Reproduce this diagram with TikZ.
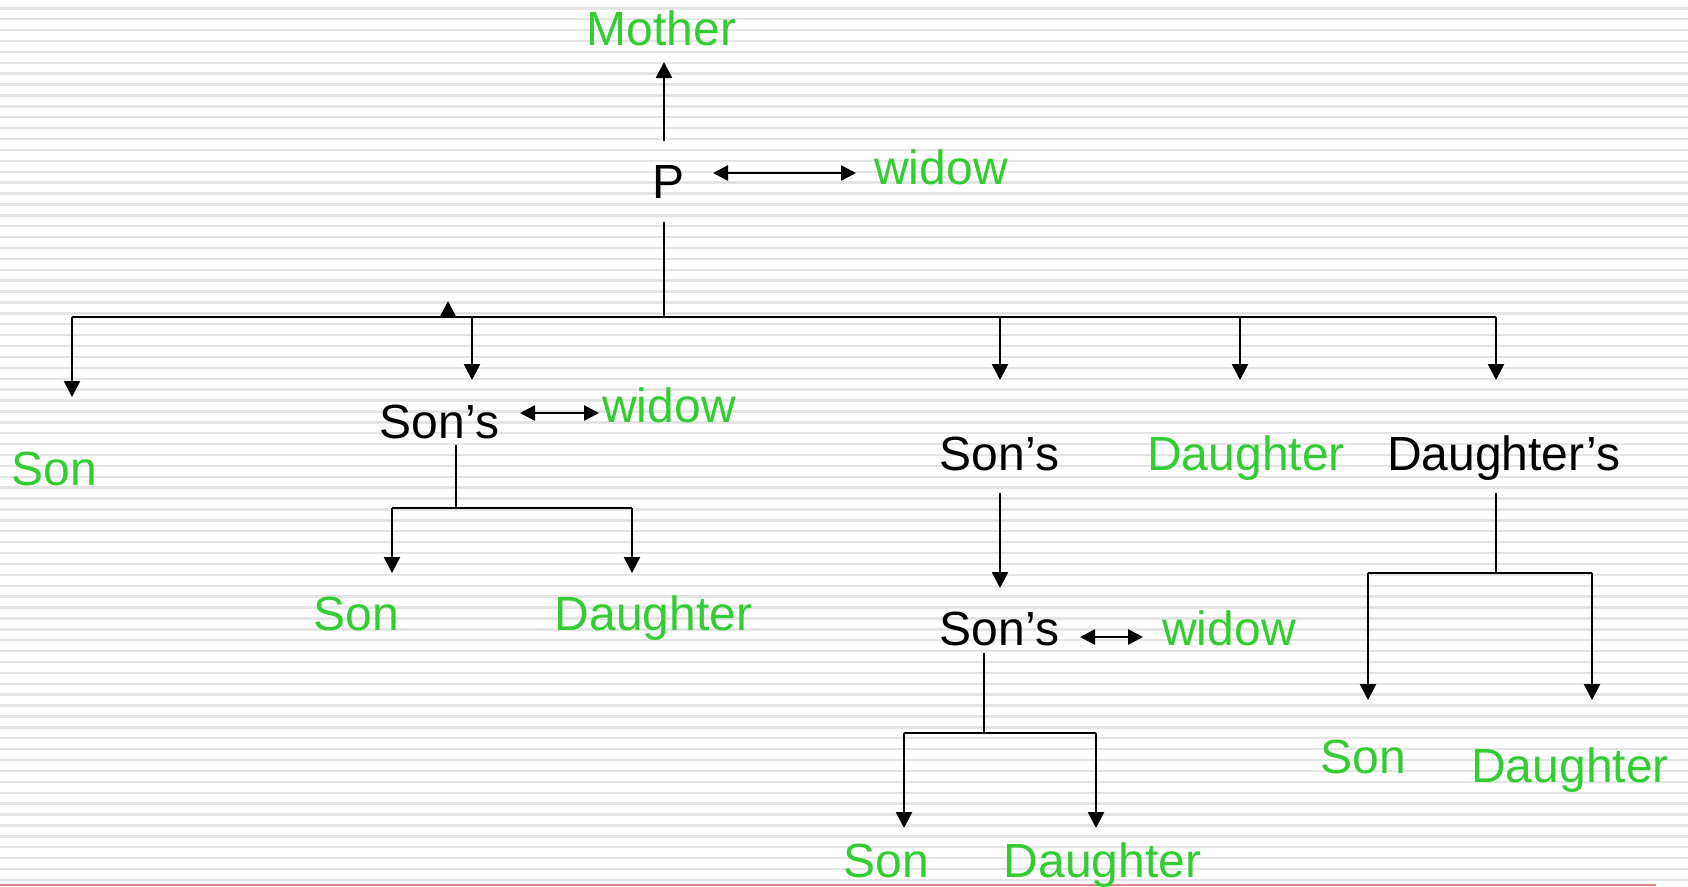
\documentclass[tikz,border=0pt]{standalone}
\usepackage{fontspec}
\setmainfont{Liberation Sans}
\usetikzlibrary{arrows.meta}
\definecolor{grn}{RGB}{51,204,51}
\definecolor{stripec}{RGB}{228,228,228}
\definecolor{redl}{RGB}{224,128,128}
\tikzset{
  lbl/.style={font=\fontsize{48}{58}\selectfont, inner sep=0pt, anchor=base},
  gtxt/.style={lbl, text=grn},
  ktxt/.style={lbl, text=black},
  ln/.style={line width=2.6pt, draw=black},
  arr/.style={ln, -{Triangle[length=16pt,width=16pt]}},
  dbl/.style={ln, {Triangle[length=15pt,width=15pt]}-{Triangle[length=15pt,width=15pt]}},
  stripe/.style={line width=2.4pt, draw=stripec},
}
\begin{document}
\begin{tikzpicture}[x=1pt,y=-1pt]
\useasboundingbox (0,0) rectangle (1688,886);
% background stripes
\foreach \i in {0,...,81}{
  \pgfmathsetmacro{\yy}{8.3+10.895*\i}
  \draw[stripe] (0,\yy) -- (1688,\yy);
}
\draw[line width=2pt, draw=redl] (0,884.5) -- (1656,884.5);

% text nodes
\node[gtxt] (mother) at (661.5,45) {Mother};
\node[ktxt] (p) at (668,198) {P};
\node[gtxt] (widow1) at (941,184) {widow};
\node[gtxt] (son0) at (54,485) {Son};
\node[ktxt] (sonsA) at (439.5,438) {Son’s};
\node[gtxt] (widowA) at (669,422) {widow};
\node[gtxt] (sonA) at (356.5,630) {Son};
\node[gtxt] (dauA) at (653.5,630) {Daughter};
\node[ktxt] (sonsB) at (999.5,470) {Son’s};
\node[gtxt] (dauB) at (1246,470) {Daughter};
\node[ktxt] (dausD) at (1503.5,470) {Daughter’s};
\node[ktxt] (sonsC) at (999.5,645) {Son’s};
\node[gtxt] (widowC) at (1229,645) {widow};
\node[gtxt] (sonC) at (886.5,877) {Son};
\node[gtxt] (dauC) at (1102.5,877) {Daughter};
\node[gtxt] (sonD) at (1363,773) {Son};
\node[gtxt] (dauD) at (1570,782) {Daughter};

% coordinates
\coordinate (pTop) at (664,141);
\coordinate (motherTip) at (664,62);
\coordinate (pWl) at (713,173);
\coordinate (pWr) at (856,173);
\coordinate (pBot) at (664,222);
\coordinate (barP) at (664,317);
\coordinate (barL) at (72,317);
\coordinate (barR) at (1496,317);
\coordinate (t0) at (72,397);
\coordinate (bA) at (472,317);
\coordinate (tA) at (472,380);
\coordinate (bB) at (1000,317);
\coordinate (tB) at (1000,380);
\coordinate (bDa) at (1240,317);
\coordinate (tDa) at (1240,380);
\coordinate (tDs) at (1496,380);
\coordinate (upBase) at (448,317);
\coordinate (upTip) at (448,301);
% Son's A family
\coordinate (aWl) at (520,413);
\coordinate (aWr) at (599,413);
\coordinate (aTop) at (456,445);
\coordinate (aJ) at (456,508);
\coordinate (aL) at (392,508);
\coordinate (aR) at (632,508);
\coordinate (aLt) at (392,573);
\coordinate (aRt) at (632,573);
% Son's B -> C
\coordinate (bTop) at (1000,493);
\coordinate (bTip) at (1000,588);
\coordinate (cWl) at (1080,637);
\coordinate (cWr) at (1143,637);
\coordinate (cTop) at (984,653);
\coordinate (cJ) at (984,733);
\coordinate (cL) at (904,733);
\coordinate (cR) at (1096,733);
\coordinate (cLt) at (904,828);
\coordinate (cRt) at (1096,828);
% Daughter's family
\coordinate (dTop) at (1496,493);
\coordinate (dJ) at (1496,573);
\coordinate (dL) at (1368,573);
\coordinate (dR) at (1592,573);
\coordinate (dLt) at (1368,700);
\coordinate (dRt) at (1592,700);

% connectors
\draw[arr] (pTop) -- (motherTip);
\draw[dbl] (pWl) -- (pWr);
\draw[ln] (pBot) -- (barP);
\draw[ln] (barL) -- (barR);
\draw[arr] (barL) -- (t0);
\draw[arr] (bA) -- (tA);
\draw[arr] (bB) -- (tB);
\draw[arr] (bDa) -- (tDa);
\draw[arr] (barR) -- (tDs);
\draw[arr] (upBase) -- (upTip);

\draw[dbl] (aWl) -- (aWr);
\draw[ln] (aTop) -- (aJ);
\draw[ln] (aL) -- (aR);
\draw[arr] (aL) -- (aLt);
\draw[arr] (aR) -- (aRt);

\draw[arr] (bTop) -- (bTip);
\draw[dbl] (cWl) -- (cWr);
\draw[ln] (cTop) -- (cJ);
\draw[ln] (cL) -- (cR);
\draw[arr] (cL) -- (cLt);
\draw[arr] (cR) -- (cRt);

\draw[ln] (dTop) -- (dJ);
\draw[ln] (dL) -- (dR);
\draw[arr] (dL) -- (dLt);
\draw[arr] (dR) -- (dRt);
\end{tikzpicture}
\end{document}
